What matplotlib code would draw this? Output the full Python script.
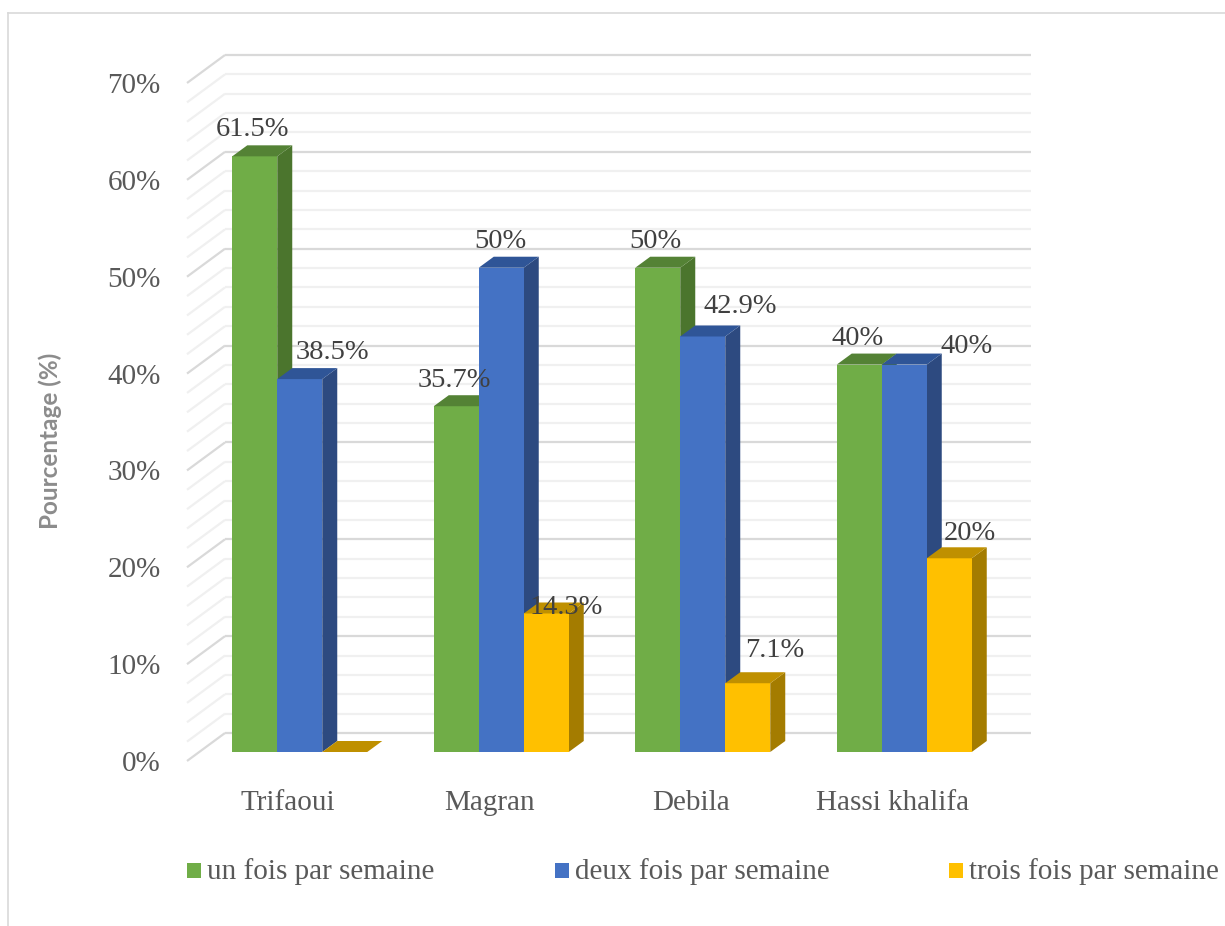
import matplotlib.pyplot as plt
from matplotlib.patches import Polygon, Rectangle
from matplotlib.lines import Line2D

# data
sites = ["Trifaoui", "Magran", "Debila", "Hassi khalifa"]
series_names = ["un fois par semaine", "deux fois par semaine", "trois fois par semaine"]
un_fois = [61.5, 35.7, 50.0, 40.0]
deux_fois = [38.5, 50.0, 42.9, 40.0]
trois_fois = [0.0, 14.3, 7.1, 20.0]
y_ticks = [0, 10, 20, 30, 40, 50, 60, 70]

# colours: front, side, top
front_cols = ["#70AD47", "#4472C4", "#FFC000"]
side_cols = ["#4B752D", "#2D4A80", "#A47C00"]
top_cols = ["#548235", "#2F5597", "#BF9000"]

# label nudges in pixels (dx, dy above the bar top)
label_nudge = [
    [(-2, 27), (-2, 26), (-2, 26), (-2, 26)],
    [(33, 27), (-1, 26), (37, 30), (62, 18)],
    [(0, 0), (20, 6), (27, 33), (21, 25)],
]

W, H = 1225, 926
fig = plt.figure(figsize=(W / 100, H / 100), dpi=100)
fig.patch.set_facecolor("white")

# plot area (front edge plane)
left, right, top, bottom = 187, 993, 83, 761
ax = fig.add_axes([left / W, 1 - bottom / H, (right - left) / W, (bottom - top) / H])
ax.set_xlim(-0.5, 3.5)
ax.set_ylim(0, 70)
for s in ax.spines.values():
    s.set_visible(False)
ax.patch.set_visible(False)

# pixel -> data conversion
px_x = 4.0 / (right - left)
px_y = 70.0 / (bottom - top)

def off(dx, dy):
    return dx * px_x, dy * px_y

FRONT = off(12, 9)
BACK = off(27, 20)
WALL = off(38, 28)

# back wall + side wall gridlines
for v in range(0, 71, 2):
    major = v % 10 == 0
    col = "#d9d9d9" if major else "#f0f0f0"
    ax.plot([-0.5 + WALL[0], 3.5 + WALL[0]], [v + WALL[1], v + WALL[1]],
            color=col, lw=1.6, zorder=1, solid_capstyle="butt", clip_on=False)
    ax.plot([-0.5, -0.5 + WALL[0]], [v, v + WALL[1]],
            color=col, lw=1.6, zorder=1, solid_capstyle="butt", clip_on=False)

# 3D-looking bars
bar_w = 45 * px_x
all_vals = [un_fois, deux_fois, trois_fois]
for i in range(len(sites)):
    for j, vals in enumerate(all_vals):
        v = vals[i]
        x0 = i + (j - 1.5) * bar_w
        x1 = x0 + bar_w
        fx, fy = FRONT
        bx, by = BACK
        front = [(x0 + fx, fy), (x1 + fx, fy), (x1 + fx, v + fy), (x0 + fx, v + fy)]
        side = [(x1 + fx, fy), (x1 + bx, by), (x1 + bx, v + by), (x1 + fx, v + fy)]
        topf = [(x0 + fx, v + fy), (x1 + fx, v + fy), (x1 + bx, v + by), (x0 + bx, v + by)]
        z = 3 + i * 3 + j
        if v > 0:
            ax.add_patch(Polygon(side, closed=True, fc=side_cols[j], ec="none", zorder=z, clip_on=False))
            ax.add_patch(Polygon(front, closed=True, fc=front_cols[j], ec="none", zorder=z, clip_on=False))
        ax.add_patch(Polygon(topf, closed=True, fc=top_cols[j], ec="none", zorder=z, clip_on=False))

        if v > 0:
            dx, dy = label_nudge[j][i]
            ax.annotate(f"{v:g}%", xy=(i + (j - 1) * bar_w, v),
                        xytext=(12 + dx, 9 + dy), textcoords="offset pixels",
                        ha="center", va="center", fontsize=20.5,
                        family="Liberation Serif", color="#404040", zorder=50,
                        annotation_clip=False)

# axes ticks
ax.set_yticks(y_ticks)
ax.set_yticklabels([f"{t}%" for t in y_ticks])
ax.set_xticks(range(len(sites)))
ax.set_xticklabels(sites)
ax.tick_params(axis="y", length=0, pad=19, labelsize=21, labelcolor="#595959")
ax.tick_params(axis="x", length=0, pad=21, labelsize=21, labelcolor="#595959")
for lab in ax.get_xticklabels() + ax.get_yticklabels():
    lab.set_family("Liberation Serif")

fig.text(50 / W, 1 - 441 / H, "Pourcentage (%)", rotation=90, ha="center", va="center",
         fontsize=17.5, family="Lato", fontweight="bold", color="#8c8c8c")

# legend
leg_x = [187, 555, 949]
for j, name in enumerate(series_names):
    fig.patches.append(Rectangle((leg_x[j] / W, 1 - 878 / H), 14 / W, 15 / H,
                                 transform=fig.transFigure, fc=front_cols[j], ec="none"))
    fig.text((leg_x[j] + 20) / W, 1 - 872 / H, name, ha="left", va="center",
             fontsize=21, family="Liberation Serif", color="#595959")

# chart border
fig.lines.append(Line2D([8 / W, 8 / W], [0, 1 - 13 / H], transform=fig.transFigure,
                        color="#d9d9d9", lw=1.2))
fig.lines.append(Line2D([8 / W, 1], [1 - 13 / H, 1 - 13 / H], transform=fig.transFigure,
                        color="#d9d9d9", lw=1.2))

fig.savefig("out.png", dpi=100)
